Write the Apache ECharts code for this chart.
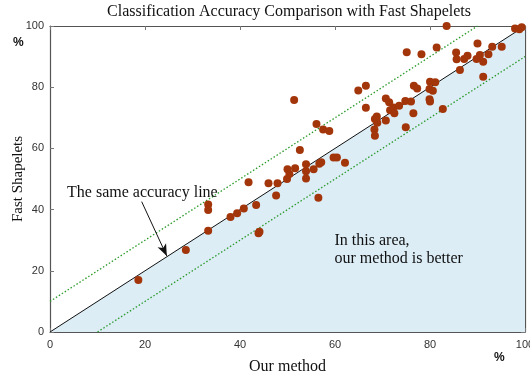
<!DOCTYPE html>
<html><head><meta charset="utf-8">
<script src="https://cdn.jsdelivr.net/npm/echarts@6/dist/echarts.min.js"></script>
<style>html,body{margin:0;padding:0;background:#fff}#c{width:530px;height:377px}</style>
</head><body><div id="c"></div>
<script>
var xTicks = [0, 20, 40, 60, 80, 100];
var yTicks = [0, 20, 40, 60, 80, 100];
// Accuracy (%) of our method (x) vs Fast Shapelets (y)
var ourMethod = [18.6,28.6,33.3,33.3,33.3,38.0,39.4,40.8,41.8,43.4,43.9,44.1,46.0,47.6,47.9,49.9,50.0,50.4,51.6,52.6,53.9,53.9,53.9,55.5,56.7,57.1,59.7,60.4,62.1,56.5,51.4,56.1,57.5,58.8,64.9,66.5,66.5,68.3,68.4,68.4,68.8,68.9,70.7,70.7,71.4,71.6,72.3,72.5,73.5,74.8,74.9,76.0,76.5,75.1,76.6,77.3,78.2,79.9,80.6,79.9,80.0,80.0,81.1,82.7,81.4,83.5,85.5,85.6,86.3,87.2,87.9,90.0,89.8,90.5,91.2,92.3,93.1,95.1,91.2,97.9,98.8,99.3];
var fastShapelets = [17.0,26.8,41.7,39.9,33.1,37.6,38.8,40.4,48.9,41.5,32.3,32.8,48.6,44.6,48.6,50.0,53.2,51.6,53.5,59.5,54.8,52.5,50.2,53.2,55.0,55.5,57.0,57.0,55.3,43.9,75.8,68.0,66.2,65.7,78.9,80.5,73.3,66.2,64.1,69.6,70.4,68.4,69.1,76.3,75.1,72.5,73.4,71.5,73.9,75.5,66.9,75.3,71.5,91.4,80.5,79.6,90.8,79.4,78.8,76.1,75.3,81.8,81.6,72.9,93.0,100,91.3,89.1,85.6,89.2,90.3,94.3,89.2,90.5,88.3,90.8,93.2,93.2,83.4,99.2,98.9,99.6];
var sameLine = [[0,0],[100,100]];
var upperBand = [[0,10],[90,100]];
var lowerBand = [[10,0],[100,90]];
var arrowFrom = [19.3, 42.6];
var arrowTo = [24.6, 24.8];

var points = ourMethod.map(function(v,i){return [v, fastShapelets[i]];});
var serif = '"Liberation Serif","DejaVu Serif",serif';
var sans = '"Liberation Sans",Arial,sans-serif';
var chart = echarts.init(document.getElementById('c'));
var axisLine = {show:true, onZero:false, lineStyle:{color:'#555', width:1.2}};
var tick = {show:true, inside:true, length:4, lineStyle:{color:'#777'}};
chart.setOption({
  animation:false,
  title:{text:'Classification Accuracy Comparison with Fast Shapelets', left:284, textAlign:'center', top:-1,
    textStyle:{fontFamily:serif, fontSize:16, fontWeight:'normal', color:'#111'}},
  grid:{left:50, right:5, top:26, bottom:45, containLabel:false, outerBoundsMode:'none'},
  xAxis:[{type:'value', min:0, max:100, interval:20, axisLine:axisLine, axisTick:tick, splitLine:{show:false},
    axisLabel:{fontFamily:sans, fontSize:11, color:'#333', margin:7},
    name:'Our method', nameLocation:'middle', nameGap:27, nameMoveOverlap:false, nameTextStyle:{fontFamily:serif, fontSize:16, color:'#111'}},
    {type:'value', position:'top', min:0, max:100, interval:20, axisLine:axisLine, axisTick:tick, axisLabel:{show:false}, splitLine:{show:false}}],
  yAxis:[{type:'value', min:0, max:100, interval:20, axisLine:axisLine, axisTick:tick, splitLine:{show:false},
    axisLabel:{fontFamily:sans, fontSize:11, color:'#333', margin:6},
    name:'Fast Shapelets', nameLocation:'middle', nameGap:24, nameMoveOverlap:false, nameTextStyle:{fontFamily:serif, fontSize:15, color:'#111'}},
    {type:'value', position:'right', min:0, max:100, interval:20, axisLine:axisLine, axisTick:tick, axisLabel:{show:false}, splitLine:{show:false}}],
  series:[
    {type:'line', data:sameLine, symbol:'none', lineStyle:{color:'#111', width:1}, areaStyle:{color:'#dcedf6', opacity:1, origin:'start'}, z:1},
    {type:'line', data:upperBand, symbol:'none', lineStyle:{color:'#2b9a2b', width:1.3, type:[1.5,2]}, z:2},
    {type:'line', data:lowerBand, symbol:'none', lineStyle:{color:'#2b9a2b', width:1.3, type:[1.5,2]}, z:2},
    {type:'scatter', data:points, symbolSize:8, itemStyle:{color:'#a3350a', opacity:1}, z:5,
      markLine:{silent:true, animation:false, symbol:['none','arrow'], symbolSize:[7,12], label:{show:false},
        lineStyle:{color:'#111', width:1, type:'solid'},
        data:[[{coord:arrowFrom},{coord:arrowTo}]]}}
  ]
});
function px(p){return chart.convertToPixel({gridIndex:0}, p);}
var a = px([3.6, 45.5]), b = px([59.9, 29.8]), c = px([59.9, 23.8]);
chart.setOption({graphic:{elements:[
  {type:'text', id:'t1', x:a[0], y:a[1], z:100, style:{text:'The same accuracy line', font:'16px '+serif, fill:'#111', verticalAlign:'middle'}},
  {type:'text', id:'t2', x:b[0], y:b[1], z:100, style:{text:'In this area,', font:'16px '+serif, fill:'#111', verticalAlign:'middle'}},
  {type:'text', id:'t3', x:c[0], y:c[1], z:100, style:{text:'our method is better', font:'16px '+serif, fill:'#111', verticalAlign:'middle'}},
  {type:'text', id:'p1', x:13, y:37, z:100, style:{text:'%', font:'bold 12px '+sans, fill:'#111'}},
  {type:'text', id:'p2', x:494, y:352, z:100, style:{text:'%', font:'bold 12px '+sans, fill:'#111'}}
]}});
</script></body></html>
